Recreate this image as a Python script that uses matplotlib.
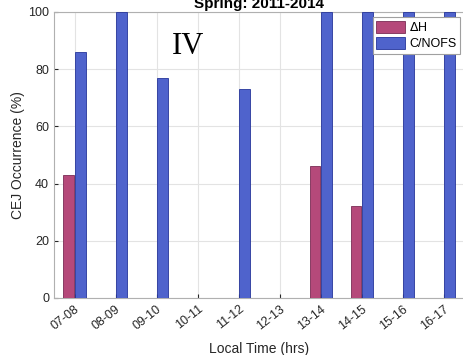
import numpy as np
import matplotlib
import matplotlib.pyplot as plt

matplotlib.rcParams.update({'font.family': 'Liberation Sans', 'font.size': 9})

hours = ['07-08', '08-09', '09-10', '10-11', '11-12',
         '12-13', '13-14', '14-15', '15-16', '16-17']
dH = [43, 0, 0, 0, 0, 0, 46, 32, 0, 0]
cnofs = [86, 100, 77, 0, 73, 0, 100, 100, 100, 100]

x = np.arange(1, len(hours) + 1)
w = 0.25

fig = plt.figure(figsize=(4.64, 3.55), dpi=100)
ax = fig.add_axes([54 / 464, 57 / 355, 411 / 464, 286 / 355])

ax.bar(x - 0.145, dH, width=w, color='#B5497A', edgecolor='#7a2c55',
       linewidth=0.6, label=r'$\Delta$H', zorder=3)
ax.bar(x + 0.145, cnofs, width=w, color='#4F63CC', edgecolor='#26359a',
       linewidth=0.6, label='C/NOFS', zorder=3)

ax.set_xlim(0.5, 10.52)
ax.set_ylim(0, 100)
ax.set_yticks(range(0, 101, 20))
ax.set_xticks(x)
ax.set_xticklabels(hours, rotation=38, ha='right', rotation_mode='anchor')
ax.grid(True, color='#e3e3e3', linewidth=0.8, zorder=0)
ax.tick_params(direction='in', length=3, colors='#262626', labelsize=9)
for s in ax.spines.values():
    s.set_color('#b0b0b0')

ax.set_ylabel('CEJ Occurrence (%)', fontsize=10, color='#262626', labelpad=2)
ax.set_xlabel('Local Time (hrs)', fontsize=10, color='#262626', labelpad=7)
ax.set_title('Spring: 2011-2014', fontsize=11, fontweight='bold', pad=3)

ax.text(3.78, 88, 'IV', family='Liberation Serif', fontsize=22,
        ha='center', va='center')

leg = ax.legend(loc='upper right', fontsize=9, handlelength=2.3,
                handleheight=1.1, borderaxespad=0.4, fancybox=False,
                framealpha=1, edgecolor='#a0a0a0', handletextpad=0.3,
                labelspacing=0.2, borderpad=0.3)
leg.get_frame().set_linewidth(0.8)

fig.savefig('out.png', dpi=100)
